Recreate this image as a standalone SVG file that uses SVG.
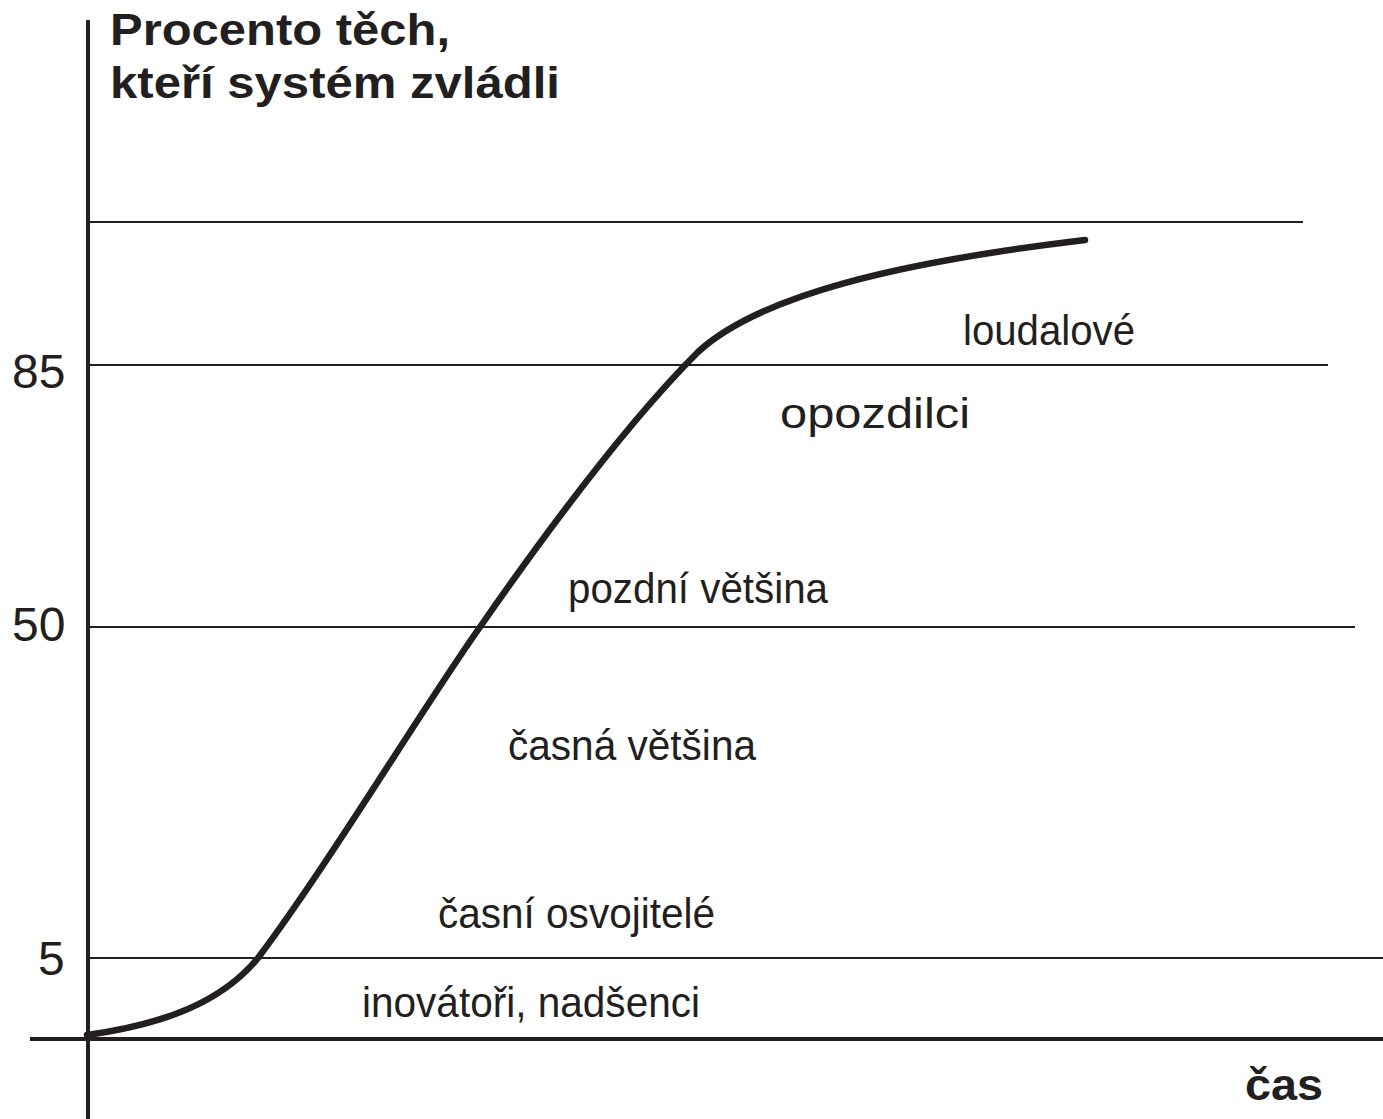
<svg xmlns="http://www.w3.org/2000/svg" width="1383" height="1119" viewBox="0 0 1383 1119">
<style>
.grid{stroke:#231f20;stroke-width:2;fill:none}
.axis{stroke:#231f20;stroke-width:4;fill:none}
.curve{stroke:#231f20;stroke-width:6.5;fill:none;stroke-linecap:round;stroke-linejoin:round}
.bold{font-family:"Liberation Sans",Arial,sans-serif;font-weight:bold;font-size:44px;fill:#231f20}
.num{font-family:"Liberation Sans",Arial,sans-serif;font-size:48px;fill:#231f20}
.lbl{font-family:"Liberation Sans",Arial,sans-serif;font-size:43px;fill:#231f20}
</style>
<rect width="1383" height="1119" fill="#fff"/>
<g id="grid">
<line class="grid" x1="87" y1="222" x2="1303" y2="222"/>
<line class="grid" x1="87" y1="365" x2="1328" y2="365"/>
<line class="grid" x1="87" y1="627" x2="1355" y2="627"/>
<line class="grid" x1="87" y1="958" x2="1383" y2="958"/>
</g>
<g id="axes">
<line class="axis" x1="88" y1="20" x2="88" y2="1119"/>
<line class="axis" x1="30" y1="1039" x2="1383" y2="1039"/>
</g>
<g id="curve">
<path class="curve" d="M87,1035 C165,1024 222,1002 258,958 C330,862 420,712 480,627 C560,512 635,415 698,352 C760,295 900,262 1085,240"/>
</g>
<g id="labels">
<text class="bold" x="110" y="45" textLength="340" lengthAdjust="spacingAndGlyphs">Procento těch,</text>
<text class="bold" x="110" y="98" textLength="450" lengthAdjust="spacingAndGlyphs">kteří systém zvládli</text>
<text class="bold" x="1245" y="1100" textLength="78" lengthAdjust="spacingAndGlyphs">čas</text>
<text class="num" x="12" y="388">85</text>
<text class="num" x="12" y="641">50</text>
<text class="num" x="38" y="975">5</text>
<text class="lbl" x="963" y="345" textLength="172" lengthAdjust="spacingAndGlyphs">loudalové</text>
<text class="lbl" x="780" y="428" textLength="190" lengthAdjust="spacingAndGlyphs">opozdilci</text>
<text class="lbl" x="568" y="603" textLength="260" lengthAdjust="spacingAndGlyphs">pozdní většina</text>
<text class="lbl" x="508" y="760" textLength="248" lengthAdjust="spacingAndGlyphs">časná většina</text>
<text class="lbl" x="438" y="928" textLength="277" lengthAdjust="spacingAndGlyphs">časní osvojitelé</text>
<text class="lbl" x="362" y="1017" textLength="338" lengthAdjust="spacingAndGlyphs">inovátoři, nadšenci</text>
</g>
</svg>
